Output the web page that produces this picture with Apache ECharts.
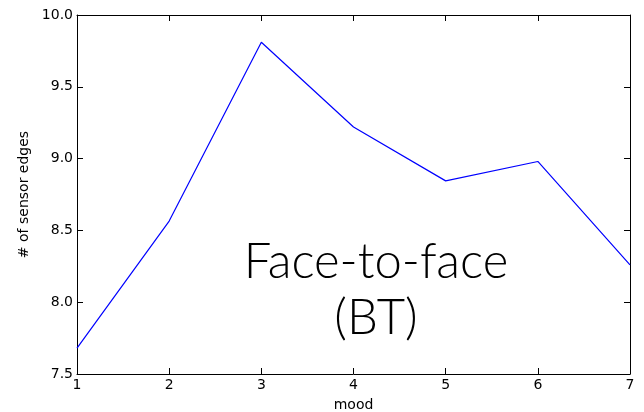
<!DOCTYPE html>
<html>
<head>
<meta charset="utf-8">
<script src="https://cdn.jsdelivr.net/npm/echarts@6/dist/echarts.min.js"></script>
<style>
  html, body { margin: 0; padding: 0; background: #fff; }
  #chart { width: 644px; height: 412px; }
</style>
</head>
<body>
<div id="chart"></div>
<script>
// Mood level on x, mean number of sensor edges on y
const moods = [1, 2, 3, 4, 5, 6, 7];
const sensorEdges = [7.68, 8.565, 9.81, 9.22, 8.845, 8.98, 8.26];
const annotation = ['Face-to-face', '(BT)'];

const chart = echarts.init(document.getElementById('chart'));
const font = 'DejaVu Sans';
const axisLine = { show: true, onZero: false, lineStyle: { color: '#000', width: 1 } };
const tickIn = { show: true, inside: true, length: 6, lineStyle: { color: '#000', width: 1 } };

chart.setOption({
  animation: false,
  backgroundColor: '#fff',
  grid: { left: 77, right: 14, top: 15, bottom: 38, containLabel: false, outerBoundsMode: 'none' },
  xAxis: [
    {
      type: 'value', min: 1, max: 7, interval: 1,
      name: 'mood', nameLocation: 'middle', nameGap: 24,
      nameTextStyle: { fontFamily: font, fontSize: 14, color: '#000' },
      axisLine, axisTick: tickIn, splitLine: { show: false },
      axisLabel: { fontFamily: font, fontSize: 14, color: '#000', margin: 4 }
    },
    {
      type: 'value', min: 1, max: 7, interval: 1, position: 'top',
      axisLine, axisTick: tickIn, splitLine: { show: false },
      axisLabel: { show: false }
    }
  ],
  yAxis: [
    {
      type: 'value', min: 7.5, max: 10, interval: 0.5,
      name: '# of sensor edges', nameLocation: 'middle', nameGap: 45,
      nameTextStyle: { fontFamily: font, fontSize: 14, color: '#000' },
      axisLine, axisTick: tickIn, splitLine: { show: false },
      axisLabel: {
        fontFamily: font, fontSize: 14, color: '#000', margin: 4,
        formatter: v => v.toFixed(1)
      }
    },
    {
      type: 'value', min: 7.5, max: 10, interval: 0.5, position: 'right',
      axisLine, axisTick: tickIn, splitLine: { show: false },
      axisLabel: { show: false }
    }
  ],
  series: [{
    type: 'line',
    data: moods.map((m, i) => [m, sensorEdges[i]]),
    showSymbol: false,
    lineStyle: { color: '#0000ff', width: 1.2 },
    itemStyle: { color: '#0000ff' }
  }],
  graphic: [{
    type: 'text',
    x: 376, y: 234,
    style: {
      text: annotation.join('\n'),
      textAlign: 'center',
      fontFamily: 'Lato',
      fontWeight: 300,
      fontSize: 49,
      lineHeight: 56,
      fill: '#000'
    }
  }]
});
</script>
</body>
</html>
